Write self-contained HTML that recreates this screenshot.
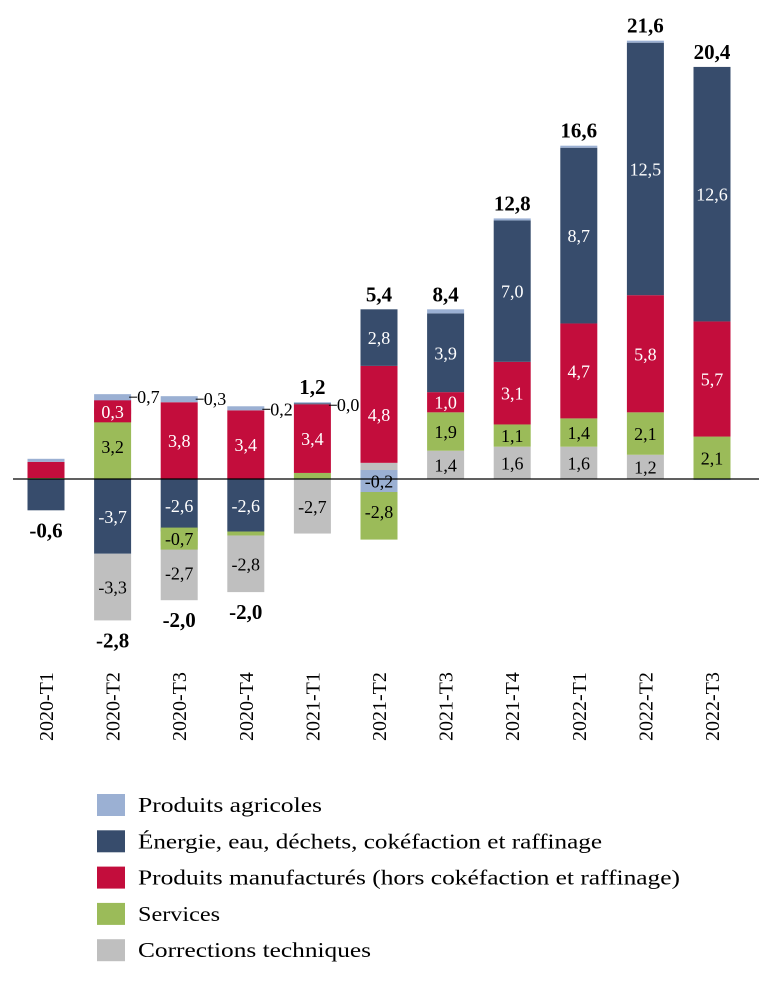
<!DOCTYPE html>
<html><head><meta charset="utf-8">
<style>
body{margin:0;background:#fff;width:759px;height:978px;overflow:hidden;font-family:"Liberation Serif",serif;}
svg text{font-family:"Liberation Serif",serif;}
</style></head>
<body>
<svg id="chart" width="759" height="978" xmlns="http://www.w3.org/2000/svg"></svg>
<script>
const categories=["2020-T1","2020-T2","2020-T3","2020-T4","2021-T1","2021-T2","2021-T3","2021-T4","2022-T1","2022-T2","2022-T3"];
const agri=[0.15,0.7,0.3,0.2,0.05,-0.2,0.2,0.1,0.1,0.1,-0.05];
const energy=[-1.55,-3.7,-2.6,-2.6,0.05,2.8,3.9,7.0,8.7,12.5,12.6];
const manuf=[0.8,0.3,3.8,3.4,3.4,4.8,1.0,3.1,4.7,5.8,5.7];
const services=[0.05,3.2,-0.7,-0.2,0.3,-2.8,1.9,1.1,1.4,2.1,2.1];
const corrections=[0,-3.3,-2.7,-2.8,-2.7,0.8,1.4,1.6,1.6,1.2,0];
const totals=[-0.6,-2.8,-2.0,-2.0,1.2,5.4,8.4,12.8,16.6,21.6,20.4];
const showEnergy=[0,1,1,1,0,1,1,1,1,1,1];
const showManuf=[0,1,1,1,1,1,1,1,1,1,1];
const showServices=[0,1,1,0,0,1,1,1,1,1,1];
const showCorr=[0,1,1,1,1,0,1,1,1,1,0];
const agriLabelOutside=[false,true,true,true,true,false,false,false,false,false,false];
const agriLabelShown=[false,true,true,true,true,true,false,false,false,false,false];
const agriLabelText=["","0,7","0,3","0,2","0,0","-0,2","","","","",""];
const legendLabels=["Produits agricoles","Énergie, eau, déchets, cokéfaction et raffinage","Produits manufacturés (hors cokéfaction et raffinage)","Services","Corrections techniques"];

const svg=document.getElementById('chart');
const NS="http://www.w3.org/2000/svg";
const zeroY=479, pxPerUnit=20.2, x0=46, step=66.6, barW=37;
const y=v=>zeroY-v*pxPerUnit;
const xc=i=>x0+i*step;
const fmt=v=>v.toFixed(1).replace('.',',');
function mk(tag,attrs,parent){const e=document.createElementNS(NS,tag);for(const k in attrs)e.setAttribute(k,attrs[k]);(parent||svg).appendChild(e);return e;}

const series={
 agri:{vals:agri,color:"#9bb0d3",txt:"#000",name:"agri",show:null},
 energy:{vals:energy,color:"#374c6c",txt:"#fff",name:"energy",show:showEnergy},
 manuf:{vals:manuf,color:"#c30d3c",txt:"#fff",name:"manuf",show:showManuf},
 services:{vals:services,color:"#9bbb59",txt:"#000",name:"services",show:showServices},
 corr:{vals:corrections,color:"#bfbfbf",txt:"#000",name:"corrections",show:showCorr}
};
const posOrder=["corr","services","manuf","energy","agri"];
const negOrder=["agri","energy","services","corr"];

const labelQueue=[];
categories.forEach((c,i)=>{
  const g=mk('g',{});
  
  
  let pos=0,neg=0;
  const drawSeg=(key,v,start)=>{
    const s=series[key];
    const top=v>=0?y(start+v):y(start);
    const h=Math.abs(v)*pxPerUnit;
    const r=mk('rect',{x:xc(i)-barW/2,y:top,width:barW,height:h,fill:s.color},g);
    
    
    let show=key==="agri"?(agriLabelShown[i]&&!agriLabelOutside[i]):!!s.show[i];
    if(show){
      const txt=key==="agri"?agriLabelText[i]:fmt(v);
      labelQueue.push({i,cy:top+h/2,h,txt,s});
    }
  };
  posOrder.forEach(k=>{const v=series[k].vals[i];if(v>0){drawSeg(k,v,pos);pos+=v;}});
  negOrder.forEach(k=>{const v=series[k].vals[i];if(v<0){drawSeg(k,v,neg);neg+=v;}});
  if(agriLabelOutside[i]){
    const ly=y(pos)+3;
    mk('line',{x1:xc(i)+barW/2-2,y1:ly,x2:xc(i)+barW/2+6,y2:ly,stroke:"#000","stroke-width":1},g);
    const t=mk('text',{x:xc(i)+barW/2+6,y:ly+6,'font-size':18,fill:"#000"},g);
    t.textContent=agriLabelText[i];
    
    
  }
  const tot=totals[i];
  const ty=tot>=0?y(pos)-8:y(neg)+27;
  const t=mk('text',{x:xc(i),y:ty,'text-anchor':'middle','font-size':21,'font-weight':'bold',fill:"#000"},g);
  t.textContent=fmt(tot);
  
  
  const ct=mk('text',{x:0,y:0,'text-anchor':'start','font-size':20,fill:"#000",transform:`translate(${xc(i)+7},741) rotate(-90)`},g);
  ct.textContent=c;
  
  
});
labelQueue.forEach(L=>{
  if(L.h<20){
    const bx=mk('rect',{x:xc(L.i)-barW/2,y:L.cy-11,width:barW,height:22,fill:L.s.color});
    
    
  }
  const t=mk('text',{x:xc(L.i),y:L.cy+6.5,'text-anchor':'middle','font-size':18,fill:L.s.txt});
  t.textContent=L.txt;
  
  
});
const ax=mk('line',{x1:13,y1:zeroY,x2:759,y2:zeroY,stroke:"#000","stroke-width":1.2});



const legendWidths=[184,464,542,82,233];
const keys=["agri","energy","manuf","services","corr"];
keys.forEach((k,j)=>{
  const g=mk('g',{});
  
  
  const ly=805+j*36.3;
  mk('rect',{x:97,y:ly-11,width:28,height:22,fill:series[k].color},g);
  const t=mk('text',{x:138,y:ly+7,'font-size':21,fill:"#000",textLength:legendWidths[j],lengthAdjust:"spacingAndGlyphs"},g);
  t.textContent=legendLabels[j];
});
</script>
</body></html>
